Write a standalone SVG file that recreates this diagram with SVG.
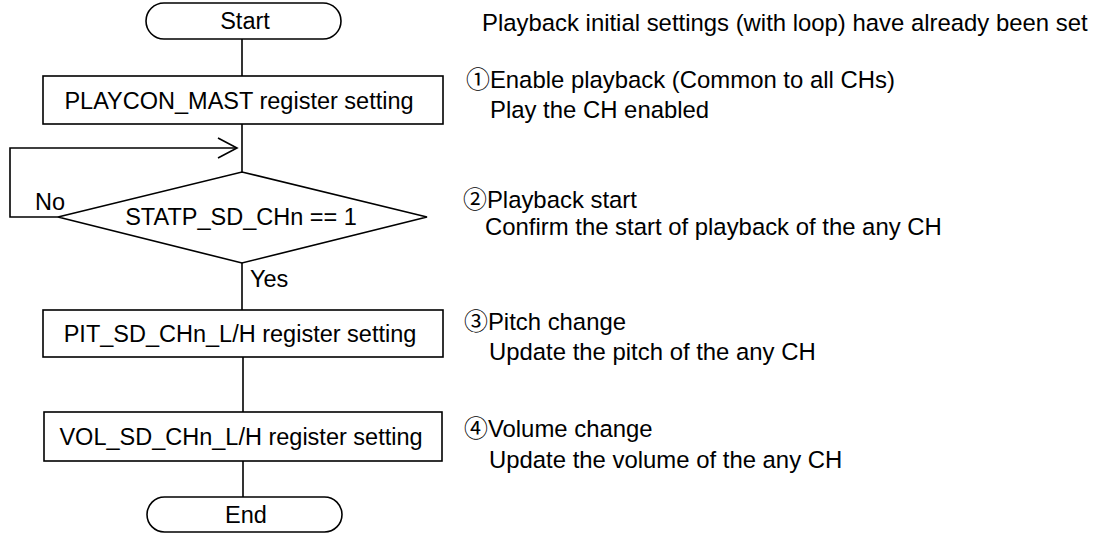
<svg xmlns="http://www.w3.org/2000/svg" width="1097" height="533" viewBox="0 0 1097 533">
<style>
.s{fill:#fff;stroke:#000;stroke-width:1.6}
.c{fill:none;stroke:#000;stroke-width:1.6}
text{font-family:"Liberation Sans",Arial,"Noto Sans CJK JP",sans-serif;font-size:23.5px;fill:#000}
.m{text-anchor:middle}
.n{font-size:23.9px}
</style>
<rect width="1097" height="533" fill="#fff"/>
<g id="connectors">
<line class="c" x1="242" y1="39" x2="242" y2="76"/>
<line class="c" x1="242" y1="124" x2="242" y2="172"/>
<line class="c" x1="242" y1="263" x2="242" y2="310"/>
<line class="c" x1="243" y1="357" x2="243" y2="412"/>
<line class="c" x1="243" y1="461" x2="243" y2="497"/>
<path class="c" d="M58,217 H10 V148 H237"/>
<path class="c" d="M218,138 L237,148 L218,158"/>
<text x="35" y="210">No</text>
<text x="250" y="287">Yes</text>
</g>
<g id="start">
<rect class="s" x="146" y="3" width="195" height="36" rx="18" ry="18"/>
<text class="m" x="245" y="29">Start</text>
</g>
<g id="playcon">
<rect class="s" x="43" y="76" width="400" height="48"/>
<text class="m" x="239" y="109">PLAYCON_MAST register setting</text>
</g>
<g id="decision">
<polygon class="s" points="58,217 242,172 427,217 242,263"/>
<text class="m" x="241" y="225">STATP_SD_CHn == 1</text>
</g>
<g id="pit">
<rect class="s" x="43" y="310" width="400" height="47"/>
<text class="m" x="240" y="342">PIT_SD_CHn_L/H register setting</text>
</g>
<g id="vol">
<rect class="s" x="44" y="412" width="398" height="49"/>
<text class="m" x="241" y="445">VOL_SD_CHn_L/H register setting</text>
</g>
<g id="end">
<rect class="s" x="147" y="497" width="195" height="35" rx="17.5" ry="17.5"/>
<text class="m" x="246" y="523">End</text>
</g>
<g id="notes">
<text class="n" x="482" y="31">Playback initial settings (with loop) have already been set</text>
<text class="n" x="466" y="88">①Enable playback (Common to all CHs)</text>
<text class="n" x="490" y="118">Play the CH enabled</text>
<text class="n" x="463" y="208">②Playback start</text>
<text class="n" x="485" y="235">Confirm the start of playback of the any CH</text>
<text class="n" x="464" y="330">③Pitch change</text>
<text class="n" x="489" y="360">Update the pitch of the any CH</text>
<text class="n" x="464" y="437">④Volume change</text>
<text class="n" x="489" y="468">Update the volume of the any CH</text>
</g>
</svg>
